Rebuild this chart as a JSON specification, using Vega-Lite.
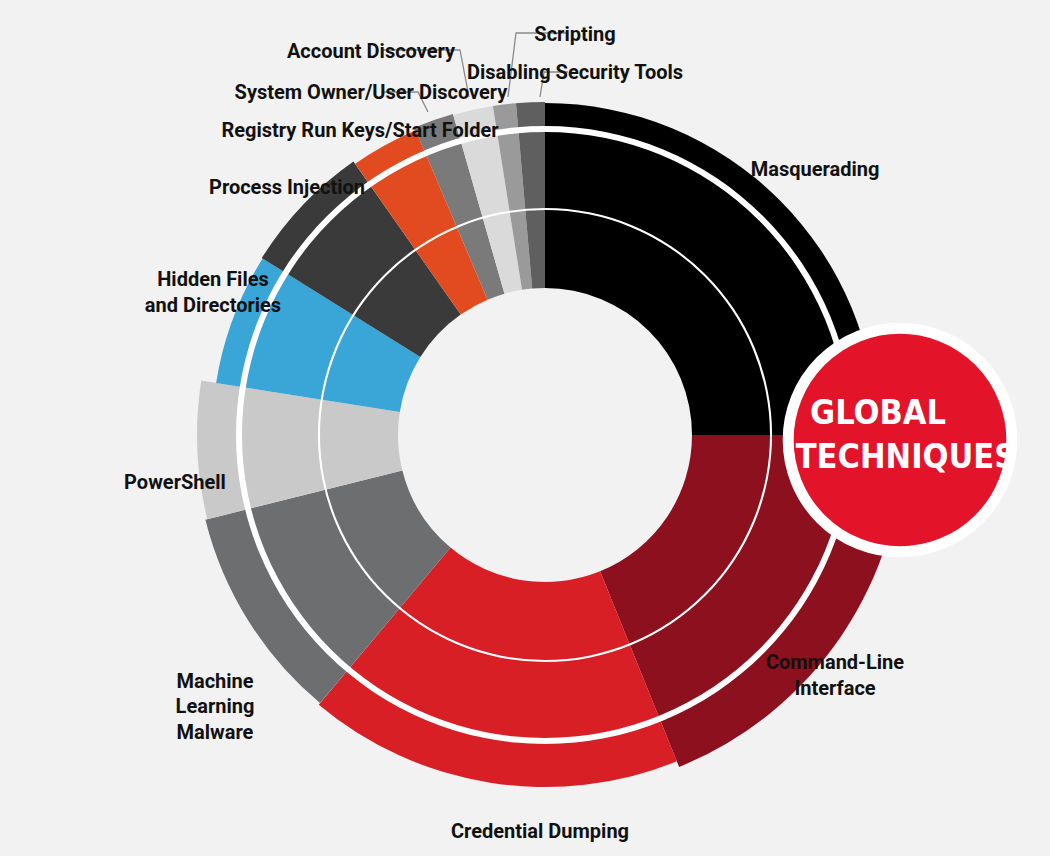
{
  "$schema": "https://vega.github.io/schema/vega-lite/v6.json",
  "width": 1050,
  "height": 856,
  "padding": 0,
  "autosize": {"type": "fit", "contains": "padding"},
  "background": "#f2f2f2",
  "config": {"view": {"stroke": null}},
  "datasets": {
    "slices": [
      {"name": "Masquerading", "a0": 0, "a1": 90, "r": 332, "cx": 545, "cy": 435, "c": "#000000"},
      {"name": "Command-Line Interface", "a0": 90, "a1": 158, "r": 358, "cx": 545, "cy": 435, "c": "#8c101d"},
      {"name": "Credential Dumping", "a0": 158, "a1": 220, "r": 352, "cx": 545, "cy": 435, "c": "#d81f26"},
      {"name": "Machine Learning Malware", "a0": 220, "a1": 256, "r": 350, "cx": 545, "cy": 435, "c": "#6d6e70"},
      {"name": "PowerShell", "a0": 256, "a1": 279, "r": 348, "cx": 545, "cy": 435, "c": "#c9c9c9"},
      {"name": "Hidden Files and Directories", "a0": 279, "a1": 302, "r": 333, "cx": 545, "cy": 435, "c": "#3aa6d8"},
      {"name": "Process Injection", "a0": 302, "a1": 325, "r": 334, "cx": 545, "cy": 435, "c": "#3a3a3a"},
      {"name": "Registry Run Keys/Start Folder", "a0": 325, "a1": 337, "r": 331, "cx": 545, "cy": 435, "c": "#e24a1f"},
      {"name": "System Owner/User Discovery", "a0": 337, "a1": 344, "r": 334, "cx": 545, "cy": 435, "c": "#7a7a7a"},
      {"name": "Account Discovery", "a0": 344, "a1": 351, "r": 333, "cx": 545, "cy": 435, "c": "#dadada"},
      {"name": "Scripting", "a0": 351, "a1": 355, "r": 333, "cx": 545, "cy": 435, "c": "#9a9a9a"},
      {"name": "Disabling Security Tools", "a0": 355, "a1": 360, "r": 333, "cx": 545, "cy": 435, "c": "#5f5f5f"}
    ],
    "rings": [
      {"ri": 303, "ro": 309, "cx": 545, "cy": 435, "a0": 0, "a1": 360},
      {"ri": 225, "ro": 227, "cx": 545, "cy": 435, "a0": 0, "a1": 360}
    ],
    "labels": [
      {"t": "Masquerading", "x": 815, "y": 170, "al": "left"},
      {"t": "Command-Line", "x": 835, "y": 663, "al": "left"},
      {"t": "Interface", "x": 835, "y": 689, "al": "left"},
      {"t": "Credential Dumping", "x": 540, "y": 832, "al": "center"},
      {"t": "Machine", "x": 215, "y": 682, "al": "center"},
      {"t": "Learning", "x": 215, "y": 707, "al": "center"},
      {"t": "Malware", "x": 215, "y": 733, "al": "center"},
      {"t": "PowerShell", "x": 175, "y": 483, "al": "right"},
      {"t": "Hidden Files", "x": 213, "y": 280, "al": "right"},
      {"t": "and Directories", "x": 213, "y": 306, "al": "right"},
      {"t": "Process Injection", "x": 287, "y": 188, "al": "right"},
      {"t": "Registry Run Keys/Start Folder", "x": 360, "y": 131, "al": "right"},
      {"t": "System Owner/User Discovery", "x": 371, "y": 93, "al": "right"},
      {"t": "Account Discovery", "x": 371, "y": 52, "al": "right"},
      {"t": "Scripting", "x": 575, "y": 35, "al": "left"},
      {"t": "Disabling Security Tools", "x": 575, "y": 73, "al": "left"}
    ],
    "leaders": [
      {"k": "a", "o": 0, "x": 382, "y": 50}, {"k": "a", "o": 1, "x": 460, "y": 50}, {"k": "a", "o": 2, "x": 469, "y": 97},
      {"k": "s", "o": 0, "x": 382, "y": 92}, {"k": "s", "o": 1, "x": 418, "y": 92}, {"k": "s", "o": 2, "x": 428, "y": 112},
      {"k": "c", "o": 0, "x": 568, "y": 33}, {"k": "c", "o": 1, "x": 516, "y": 33}, {"k": "c", "o": 2, "x": 508, "y": 97},
      {"k": "d", "o": 0, "x": 568, "y": 72}, {"k": "d", "o": 1, "x": 544, "y": 72}, {"k": "d", "o": 2, "x": 540, "y": 97}
    ],
    "badge": [{"x": 900, "y": 440}],
    "badgeText": [{"t": "GLOBAL", "x": 878, "y": 414}, {"t": "TECHNIQUES", "x": 906, "y": 458}]
  },
  "layer": [
    {
      "data": {"name": "slices"},
      "transform": [
        {"calculate": "datum.a0 * PI / 180", "as": "t0"},
        {"calculate": "datum.a1 * PI / 180", "as": "t1"}
      ],
      "mark": {"type": "arc", "radius2": 147},
      "encoding": {
        "x": {"field": "cx", "type": "quantitative", "scale": {"domain": [0, 1050], "range": [0, 1050], "nice": false, "zero": false}, "axis": null},
        "y": {"field": "cy", "type": "quantitative", "scale": {"domain": [0, 856], "range": [0, 856], "nice": false, "zero": false}, "axis": null},
        "theta": {"field": "t0", "type": "quantitative", "scale": null},
        "theta2": {"field": "t1"},
        "radius": {"field": "r", "type": "quantitative", "scale": null},
        "color": {"field": "c", "type": "nominal", "scale": null}
      }
    },
    {
      "data": {"name": "rings"},
      "transform": [
        {"calculate": "datum.a0 * PI / 180", "as": "t0"},
        {"calculate": "datum.a1 * PI / 180", "as": "t1"}
      ],
      "mark": {"type": "arc", "color": "#ffffff"},
      "encoding": {
        "x": {"field": "cx", "type": "quantitative"},
        "y": {"field": "cy", "type": "quantitative"},
        "theta": {"field": "t0", "type": "quantitative", "scale": null},
        "theta2": {"field": "t1"},
        "radius": {"field": "ro", "type": "quantitative", "scale": null},
        "radius2": {"field": "ri"}
      }
    },
    {
      "data": {"name": "leaders"},
      "mark": {"type": "line", "color": "#8a8a8a", "strokeWidth": 1.3},
      "encoding": {
        "x": {"field": "x", "type": "quantitative"},
        "y": {"field": "y", "type": "quantitative"},
        "detail": {"field": "k"},
        "order": {"field": "o"}
      }
    },
    {
      "data": {"name": "labels"},
      "mark": {"type": "text", "font": "Roboto", "fontWeight": "bold", "fontSize": 20, "color": "#111111", "baseline": "middle"},
      "encoding": {
        "x": {"field": "x", "type": "quantitative"},
        "y": {"field": "y", "type": "quantitative"},
        "text": {"field": "t"},
        "align": {"field": "al", "type": "nominal", "scale": null}
      }
    },
    {
      "data": {"name": "badge"},
      "mark": {"type": "point", "shape": "circle", "filled": true, "color": "#e3132a", "stroke": "#ffffff", "strokeWidth": 11, "size": 50000, "opacity": 1},
      "encoding": {
        "x": {"field": "x", "type": "quantitative"},
        "y": {"field": "y", "type": "quantitative"}
      }
    },
    {
      "data": {"name": "badgeText"},
      "mark": {"type": "text", "font": "DejaVu Sans Condensed, DejaVu Sans", "fontWeight": "bold", "fontSize": 34, "color": "#ffffff", "align": "center", "baseline": "middle"},
      "encoding": {
        "x": {"field": "x", "type": "quantitative"},
        "y": {"field": "y", "type": "quantitative"},
        "text": {"field": "t"}
      }
    }
  ]
}
